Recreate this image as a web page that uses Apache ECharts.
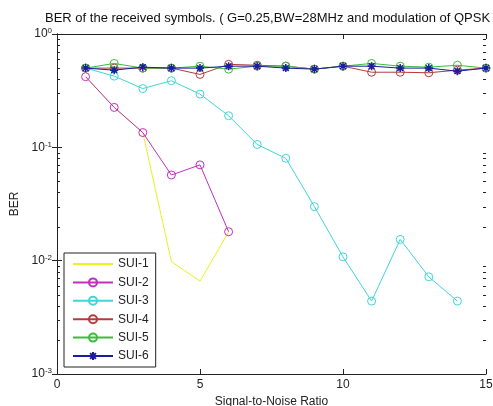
<!DOCTYPE html>
<html>
<head>
<meta charset="utf-8">
<script src="https://cdn.jsdelivr.net/npm/echarts@6/dist/echarts.min.js"></script>
<style>
html,body{margin:0;padding:0;background:#fff;}
#c{width:493px;height:406px;}
</style>
</head>
<body>
<div id="c"></div>
<script>
const titleText = 'BER of the received symbols. ( G=0.25,BW=28MHz and modulation of QPSK )';
const xName = 'Signal-to-Noise Ratio';
const yName = 'BER';
const seriesNames = ['SUI-1', 'SUI-2', 'SUI-3', 'SUI-4', 'SUI-5', 'SUI-6'];

const sui1X = [1, 2, 3, 4, 5, 6];
const sui1Y = [0.42, 0.225, 0.135, 0.0098, 0.0066, 0.018];

const sui2X = [1, 2, 3, 4, 5, 6];
const sui2Y = [0.42, 0.225, 0.135, 0.057, 0.070, 0.018];

const sui3X = [1, 2, 3, 4, 5, 6, 7, 8, 9, 10, 11, 12, 13, 14];
const sui3Y = [0.50, 0.425, 0.33, 0.387, 0.295, 0.19, 0.106, 0.080, 0.030, 0.0108, 0.0044, 0.0154, 0.0072, 0.0044];

const topX = [1, 2, 3, 4, 5, 6, 7, 8, 9, 10, 11, 12, 13, 14, 15];
const sui4Y = [0.50, 0.50, 0.50, 0.50, 0.44, 0.54, 0.53, 0.52, 0.49, 0.52, 0.46, 0.46, 0.455, 0.48, 0.50];
const sui5Y = [0.50, 0.55, 0.50, 0.50, 0.52, 0.49, 0.52, 0.52, 0.49, 0.52, 0.55, 0.52, 0.51, 0.53, 0.50];
const sui6Y = [0.50, 0.48, 0.51, 0.50, 0.50, 0.52, 0.52, 0.50, 0.49, 0.52, 0.52, 0.50, 0.50, 0.47, 0.50];

const xTicks = [0, 5, 10, 15];
const yMajor = [0.001, 0.01, 0.1, 1];
const yMinor = [0.002, 0.003, 0.004, 0.005, 0.006, 0.007, 0.008, 0.009,
                0.02, 0.03, 0.04, 0.05, 0.06, 0.07, 0.08, 0.09,
                0.2, 0.3, 0.4, 0.5, 0.6, 0.7, 0.8, 0.9];

const colors = ['#eeee22', '#c030c0', '#3fd6d6', '#b03c3c', '#3cbc3c', '#1c1ca0'];
const axisColor = '#222';
const fontFam = 'Liberation Sans, Arial, sans-serif';

function pairs(xs, ys) { return xs.map((x, i) => [x, ys[i]]); }

const starPath = 'path://M0,-5L0,5M-5,0L5,0M-3.6,-3.6L3.6,3.6M-3.6,3.6L3.6,-3.6';

function lineSeries(name, data, idx, symbol) {
  const s = {
    name: name, type: 'line', data: data,
    xAxisIndex: 0, yAxisIndex: 0,
    lineStyle: { color: colors[idx], width: 1 },
    itemStyle: { color: colors[idx], borderColor: colors[idx], borderWidth: 1 },
    symbol: symbol, symbolSize: 8, showAllSymbol: true,
    clip: false, z: 2 + idx
  };
  if (symbol === 'circle') {
    s.itemStyle = { color: 'rgba(255,255,255,0)', borderColor: colors[idx], borderWidth: 1 };
    s.symbolSize = 8;
  } else if (symbol === 'star6') {
    s.symbol = starPath;
    s.symbolSize = 8;
    s.itemStyle = { color: colors[idx], borderColor: colors[idx], borderWidth: 1.5 };
  }
  return s;
}

function expLabel(v) {
  const e = Math.round(Math.log10(v));
  return '{b|10}{s|' + e + '}';
}

const legendData = seriesNames.map((n, i) => i === 0
  ? { name: n, itemStyle: { color: 'rgba(0,0,0,0)', borderColor: 'rgba(0,0,0,0)', borderWidth: 0, opacity: 0 } }
  : { name: n });

const chart = echarts.init(document.getElementById('c'), null, { renderer: 'canvas' });
chart.setOption({
  animation: false,
  backgroundColor: '#fff',
  title: {
    text: titleText, left: 45, top: 12, padding: 0,
    textStyle: { fontSize: 13, fontWeight: 'normal', color: '#111', fontFamily: fontFam }
  },
  grid: { left: 57, right: 7, top: 34, bottom: 32, outerBoundsMode: 'none', containLabel: false },
  legend: {
    data: legendData, orient: 'vertical', left: 64, top: 253,
    padding: [5, 7, 5, 8], itemGap: 6.4, itemWidth: 40, itemHeight: 10,
    backgroundColor: '#fff', borderColor: '#222', borderWidth: 1,
    textStyle: { fontSize: 12, color: '#222', fontFamily: fontFam, lineHeight: 12 }
  },
  xAxis: [{
    type: 'value', min: xTicks[0], max: xTicks[xTicks.length - 1], interval: 5,
    name: xName, nameLocation: 'middle', nameGap: 19,
    nameTextStyle: { fontSize: 12, color: '#222', fontFamily: fontFam },
    axisLine: { show: true, lineStyle: { color: axisColor, width: 1 } },
    axisTick: { show: true, inside: true, length: 5, lineStyle: { color: axisColor } },
    axisLabel: { fontSize: 12, color: '#222', margin: 5, fontFamily: fontFam },
    splitLine: { show: false }
  }, {
    type: 'value', position: 'top', min: xTicks[0], max: xTicks[xTicks.length - 1], interval: 5,
    axisLine: { show: true, lineStyle: { color: axisColor, width: 1 } },
    axisTick: { show: true, inside: true, length: 5, lineStyle: { color: axisColor } },
    axisLabel: { show: false }, splitLine: { show: false }
  }],
  yAxis: [{
    type: 'log', logBase: 10, min: yMajor[0], max: yMajor[yMajor.length - 1],
    name: yName, nameLocation: 'middle', nameGap: 33,
    nameTextStyle: { fontSize: 12, color: '#222', fontFamily: fontFam },
    axisLine: { show: true, lineStyle: { color: axisColor, width: 1 } },
    axisTick: { show: true, inside: true, length: 5, lineStyle: { color: axisColor } },
    axisLabel: {
      margin: 5, formatter: expLabel, fontFamily: fontFam,
      rich: {
        b: { fontSize: 12, color: '#222', fontFamily: fontFam, lineHeight: 14 },
        s: { fontSize: 8, color: '#222', fontFamily: fontFam, verticalAlign: 'top', lineHeight: 8, padding: [0, 0, 0, 0] }
      }
    },
    splitLine: { show: false }
  }, {
    type: 'log', logBase: 10, position: 'right', min: yMajor[0], max: yMajor[yMajor.length - 1],
    axisLine: { show: true, lineStyle: { color: axisColor, width: 1 } },
    axisTick: { show: true, inside: true, length: 5, lineStyle: { color: axisColor } },
    axisLabel: { show: false }, splitLine: { show: false }
  }],
  series: [
    {
      type: 'custom', name: 'minorTicks', silent: true, z: 1,
      xAxisIndex: 0, yAxisIndex: 0,
      data: yMinor.map(v => [0, v]),
      encode: { x: 0, y: 1 },
      renderItem: function (params, api) {
        const v = api.value(1);
        const pL = api.coord([xTicks[0], v]);
        const pR = api.coord([xTicks[xTicks.length - 1], v]);
        const y = Math.round(pL[1]) + 0.5;
        return {
          type: 'group', children: [
            { type: 'line', shape: { x1: pL[0], y1: y, x2: pL[0] + 3, y2: y }, style: { stroke: axisColor, lineWidth: 1 } },
            { type: 'line', shape: { x1: pR[0] - 3, y1: y, x2: pR[0], y2: y }, style: { stroke: axisColor, lineWidth: 1 } }
          ]
        };
      }
    },
    lineSeries(seriesNames[0], pairs(sui1X, sui1Y), 0, 'none'),
    lineSeries(seriesNames[1], pairs(sui2X, sui2Y), 1, 'circle'),
    lineSeries(seriesNames[2], pairs(sui3X, sui3Y), 2, 'circle'),
    lineSeries(seriesNames[3], pairs(topX, sui4Y), 3, 'circle'),
    lineSeries(seriesNames[4], pairs(topX, sui5Y), 4, 'circle'),
    lineSeries(seriesNames[5], pairs(topX, sui6Y), 5, 'star6')
  ]
});
</script>
</body>
</html>
